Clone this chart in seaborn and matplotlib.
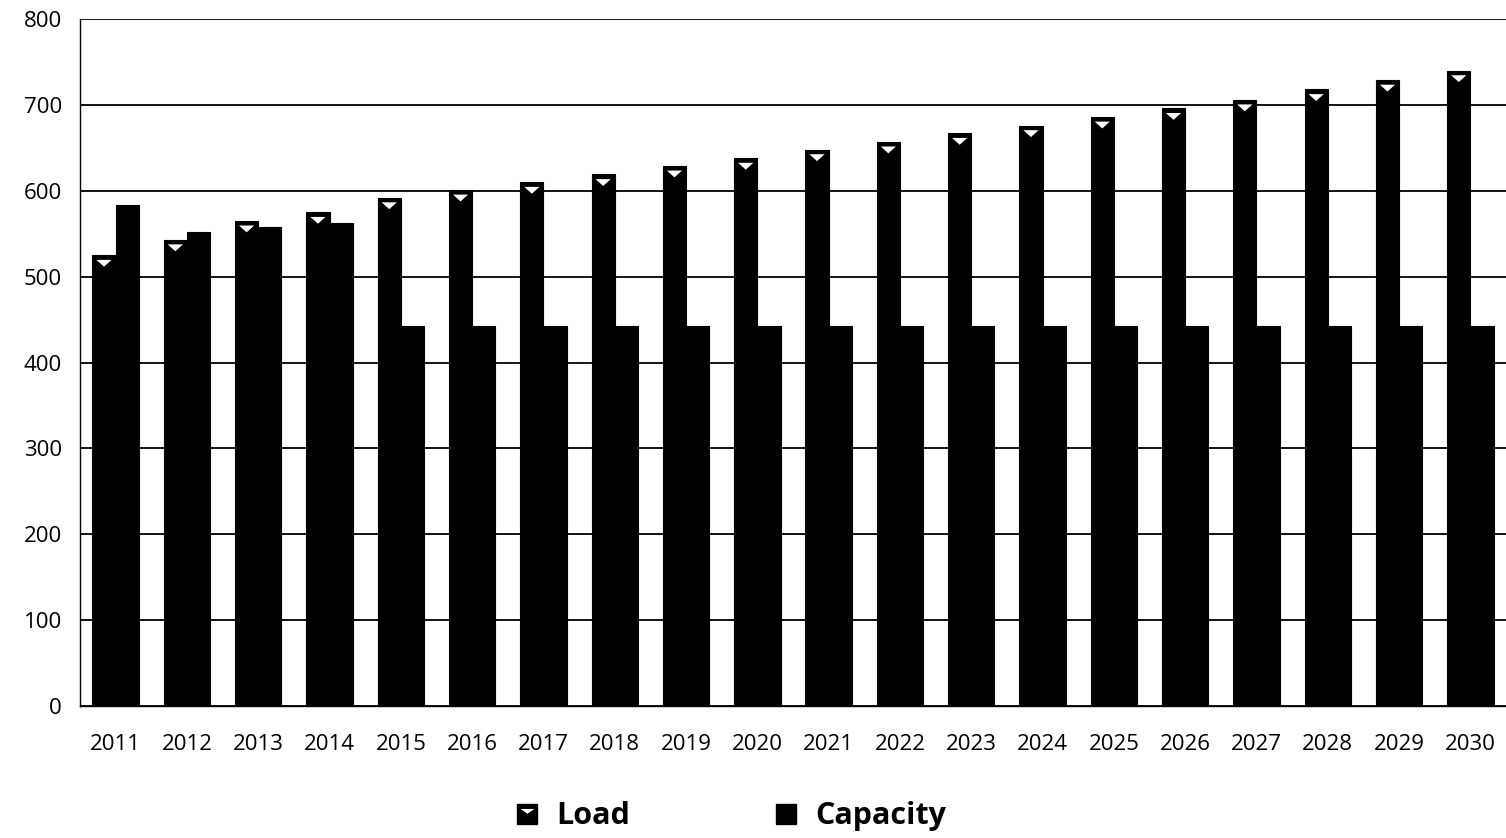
import matplotlib
matplotlib.use("Agg")
import matplotlib.pyplot as plt
import seaborn as sns
import pandas as pd
from matplotlib.lines import Line2D
from matplotlib.path import Path
from matplotlib.legend_handler import HandlerTuple

years = [str(y) for y in range(2011, 2031)]
load = [525, 543, 565, 575, 592, 601, 610, 619, 629, 638, 648, 657, 667, 676, 686, 696, 706, 718, 729, 740]
capacity = [583, 552, 558, 562, 442, 442, 442, 442, 442, 442, 442, 442, 442, 442, 442, 442, 442, 442, 442, 442]
series = ["Load", "Capacity"]
y_ticks = [0, 100, 200, 300, 400, 500, 600, 700, 800]

df = pd.DataFrame({
    "Year": years * 2,
    "Value": load + capacity,
    "Series": [series[0]] * len(years) + [series[1]] * len(years),
})

sns.set_style("white")
plt.rcParams["font.family"] = ["Open Sans", "DejaVu Sans"]
plt.rcParams["text.color"] = "black"
plt.rcParams["xtick.color"] = "black"
plt.rcParams["ytick.color"] = "black"

fig = plt.figure(figsize=(15.06, 8.38), dpi=100)
ax = fig.add_axes([0.0531, 0.1575, 0.9469, 0.8198])

sns.barplot(data=df, x="Year", y="Value", hue="Series", palette=["black", "black"],
            width=0.65, gap=0.0, ax=ax, legend=False, edgecolor="black", linewidth=0.8,
            saturation=1)

# flattened downward triangle marker (bevel highlight)
tri = Path([(-1.0, 0.4), (1.0, 0.4), (0.0, -0.5), (-1.0, 0.4)],
           [Path.MOVETO, Path.LINETO, Path.LINETO, Path.CLOSEPOLY])
tri_leg = Path([(-1.0, 0.8), (1.0, 0.8), (0.0, 0.1), (-1.0, 0.8)],
               [Path.MOVETO, Path.LINETO, Path.LINETO, Path.CLOSEPOLY])

for p in ax.containers[0].patches:
    cx = p.get_x() + p.get_width() / 2
    ax.scatter([cx], [p.get_height() - 9], marker=tri, s=120, color="white",
               edgecolor="none", zorder=5)

ax.set_ylim(0, 800)
ax.set_xlim(-0.5, len(years) - 0.5)
ax.set_yticks(y_ticks)
ax.yaxis.grid(True, color="black", linewidth=1.3)
ax.set_axisbelow(True)
ax.set_xlabel("")
ax.set_ylabel("")
for s in ["top", "right"]:
    ax.spines[s].set_visible(False)
ax.spines["left"].set_color("black")
ax.spines["bottom"].set_color("black")
ax.spines["left"].set_linewidth(1.0)
ax.spines["bottom"].set_linewidth(1.0)

ax.set_xticks(range(len(years)))
ax.set_xticklabels(years, fontsize=16, color="black")
ax.tick_params(axis="x", length=0, pad=20, labelcolor="black")
ax.set_xticks([i - 0.5 for i in range(len(years) + 1)], minor=True)
ax.tick_params(axis="x", which="minor", length=7, width=1, color="black", direction="out")
ax.tick_params(axis="y", labelsize=16, length=7, width=1, color="black", labelcolor="black",
               direction="out", pad=6)

sq1 = Line2D([0], [0], marker="s", color="none", markerfacecolor="black",
             markeredgecolor="black", markersize=14)
tr1 = Line2D([0], [0], marker=tri_leg, color="none", markerfacecolor="white",
             markeredgecolor="none", markersize=10)
sq2 = Line2D([0], [0], marker="s", color="none", markerfacecolor="black",
             markeredgecolor="black", markersize=14)

leg = fig.legend([(sq1, tr1), sq2], series, loc="center", bbox_to_anchor=(0.484, 0.026), ncol=2,
                 frameon=False, prop={"size": 22, "weight": "bold"},
                 columnspacing=4.6, handletextpad=0.45, handlelength=1.0,
                 handler_map={tuple: HandlerTuple(ndivide=1)})
for t in leg.get_texts():
    t.set_color("black")

fig.savefig("out.png", dpi=100)
